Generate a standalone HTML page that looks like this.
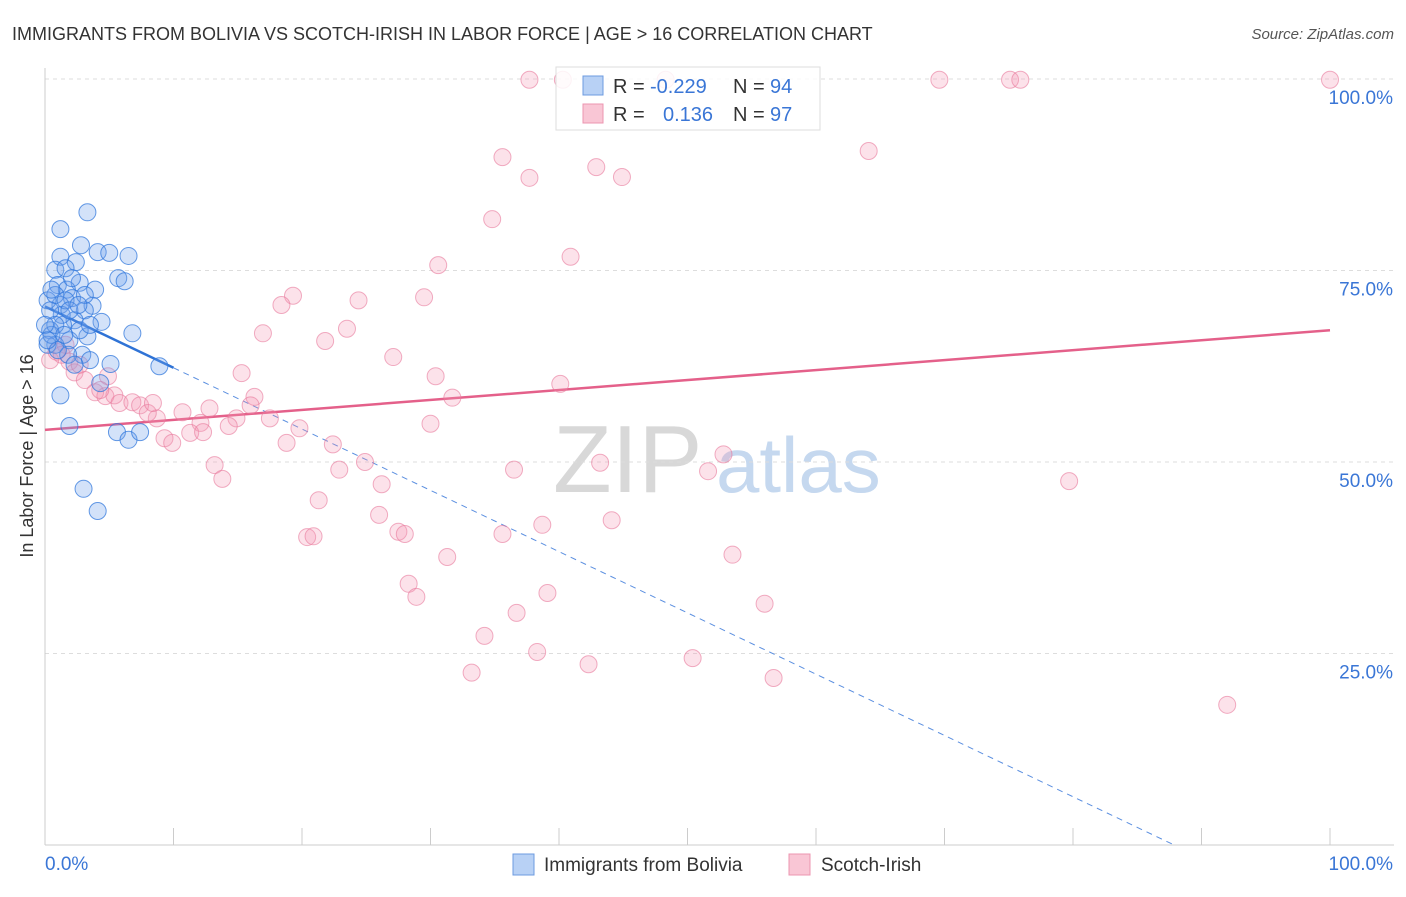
<!DOCTYPE html>
<html><head><meta charset="utf-8"><style>
body{margin:0;background:#fff;font-family:"Liberation Sans",sans-serif;}
svg text{font-family:"Liberation Sans",sans-serif;}
</style></head><body>
<svg id="chart" width="1406" height="892" viewBox="0 0 1406 892">
<text x="12" y="40" font-size="18" fill="#333">IMMIGRANTS FROM BOLIVIA VS SCOTCH-IRISH IN LABOR FORCE | AGE &gt; 16 CORRELATION CHART</text>
<text x="1394" y="39" font-size="15" fill="#555" text-anchor="end" font-style="italic">Source: ZipAtlas.com</text>
<text transform="translate(33,456) rotate(-90)" font-size="18" fill="#333" text-anchor="middle">In Labor Force | Age &gt; 16</text>
<g font-size="96">
<text x="553" y="492" fill="#d8d8d8" font-family="Liberation Serif,serif">ZIP</text>
<text x="716" y="492" fill="#c5d8ef" font-size="78">atlas</text>
</g>
<g id="grid"></g><g id="axes"></g><g id="lines"></g><g id="pts"></g>
<g>
<rect x="556" y="67" width="264" height="63" fill="rgba(255,255,255,0.85)" stroke="#ddd"/>
<rect x="583" y="76" width="20" height="19" fill="#b8d1f5" stroke="#6c9be0"/>
<rect x="583" y="104" width="20" height="19" fill="#f9c6d5" stroke="#ec95b0"/>
<text x="613" y="93" font-size="20" fill="#333">R = </text><text x="650" y="93" font-size="20" fill="#3a76d6">-0.229</text>
<text x="733" y="93" font-size="20" fill="#333">N = </text><text x="770" y="93" font-size="20" fill="#3a76d6">94</text>
<text x="613" y="121" font-size="20" fill="#333">R = </text><text x="663" y="121" font-size="20" fill="#3a76d6">0.136</text>
<text x="733" y="121" font-size="20" fill="#333">N = </text><text x="770" y="121" font-size="20" fill="#3a76d6">97</text>
</g>
<g>
<rect x="513" y="854" width="21" height="21" fill="#b8d1f5" stroke="#6c9be0"/>
<text x="544" y="871" font-size="19" fill="#333">Immigrants from Bolivia</text>
<rect x="789" y="854" width="21" height="21" fill="#f9c6d5" stroke="#ec95b0"/>
<text x="821" y="871" font-size="19" fill="#333">Scotch-Irish</text>
</g>
</svg>
<script>
const yTicks=[25,50,75,100];
const yTickLabels=["25.0%","50.0%","75.0%","100.0%"];
const xTickLabels=["0.0%","100.0%"];
const blueX=[3.3,1.2,2.8,4.1,5.0,6.5,1.2,2.4,0.8,5.7,6.2,1.0,2.7,1.7,3.9,2.1,3.7,1.2,3.1,2.3,4.4,1.4,0.4,3.3,6.8,1.9,0.8,2.9,5.1,8.9,1.2,4.3,1.9,5.6,6.5,7.4,3.0,4.1,0.2,0.8,1.3,1.6,1.9,2.7,3.5,1.8,0.2,0.5,1.0,1.6,2.1,0.5,3.1,2.6,3.5,0.4,0.8,1.5,2.3,0,0.2];
const blueY=[82.6,80.4,78.3,77.4,77.3,76.9,76.8,76.1,75.1,74.0,73.6,73.1,73.4,72.5,72.5,71.4,70.4,70.5,69.8,68.5,68.3,67.9,67.2,66.4,66.8,65.9,65.3,64.0,62.8,62.5,58.7,60.3,54.7,53.9,52.9,53.9,46.5,43.6,71.1,71.8,69.2,71.1,69.8,67.2,63.3,64.0,65.3,66.6,64.6,75.3,74.0,72.5,71.8,70.5,67.9,69.8,67.9,66.6,62.7,67.9,65.9];
const pinkX=[37.7,40.3,48.3,69.6,75.1,75.9,100,35.6,42.9,37.7,44.9,64.1,34.8,40.9,30.6,19.3,18.4,29.5,24.4,16.96,21.8,23.5,27.1,15.3,30.4,40.1,16.3,31.7,16,12.8,10.7,8.7,12.1,14.9,17.5,14.3,19.8,11.3,12.3,9.3,9.9,30,18.8,22.4,24.9,22.9,13.2,13.8,36.5,43.2,51.6,52.8,79.7,21.3,26.2,26,38.7,44.1,20.4,20.9,27.5,28,35.6,31.3,53.5,28.3,28.9,39.1,36.7,56,34.2,38.3,42.3,50.4,33.2,56.7,92,0.4,0.9,1.6,1.9,2.3,3.1,3.9,4.9,4.7,5.4,5.8,6.8,7.4,8.0,8.4,1.3,2.7,4.3];
const pinkY=[99.9,99.9,99.9,99.9,99.9,99.9,99.9,89.8,88.5,87.1,87.2,90.6,81.7,76.8,75.7,71.7,70.5,71.5,71.1,66.8,65.8,67.4,63.7,61.6,61.2,60.2,58.5,58.4,57.4,57.0,56.5,55.7,55.1,55.7,55.7,54.7,54.4,53.8,53.9,53.1,52.5,55,52.5,52.3,50.0,49.0,49.6,47.8,49.0,49.9,48.8,51.0,47.5,45.0,47.1,43.1,41.8,42.4,40.2,40.3,40.9,40.6,40.6,37.6,37.9,34.1,32.4,32.9,30.3,31.5,27.3,25.2,23.6,24.4,22.5,21.8,18.3,63.3,64.4,65.3,63.1,61.7,60.7,59.1,61.2,58.6,58.7,57.7,57.8,57.4,56.4,57.7,64.0,62.7,59.4];
const blueTrend=[70.3,-0.8];
const pinkTrend=[54.2,0.13];
const X0=45,X1=1330,Y0=845,Y1=79;
const sx=v=>X0+(X1-X0)*v/100, sy=v=>Y0-(Y0-Y1)*v/100;
const NS="http://www.w3.org/2000/svg";
function mk(t,a,p){const e=document.createElementNS(NS,t);for(const k in a)e.setAttribute(k,a[k]);p.appendChild(e);return e;}
const grid=document.getElementById('grid'),axes=document.getElementById('axes'),lines=document.getElementById('lines'),pts=document.getElementById('pts');
yTicks.forEach((t,i)=>{
 const l=mk('line',{x1:X0,x2:1394,y1:sy(t),y2:sy(t),stroke:'#ddd','stroke-dasharray':'4,4'},grid);
 
 
 const tx=mk('text',{x:1393,y:sy(t)+25,'font-size':19,fill:'#3a76d6','text-anchor':'end'},grid);
 tx.textContent=yTickLabels[i];
 
 
});
const ax=mk('line',{x1:X0,x2:1394,y1:Y0,y2:Y0,stroke:'#ccc'},axes);


const ay=mk('line',{x1:X0,x2:X0,y1:68,y2:Y0,stroke:'#ccc'},axes);


for(let i=0;i<=10;i++){const t=mk('line',{x1:sx(i*10),x2:sx(i*10),y1:828,y2:Y0,stroke:'#ccc'},axes);
 
 }
[[0,'start',45],[100,'end',1393]].forEach((d,i)=>{const t=mk('text',{x:d[2],y:870,'font-size':19,fill:'#3a76d6','text-anchor':d[1]},axes);t.textContent=xTickLabels[i];
 
 });
function dot(x,y,c){const e=mk('circle',{cx:sx(x),cy:sy(y),r:8.5,fill:c[0],stroke:c[1],'stroke-width':1},pts);return e;}
pinkX.forEach((x,i)=>{const e=dot(x,pinkY[i],['rgba(244,150,178,0.28)','rgba(232,120,155,0.6)']);
 
 });
blueX.forEach((x,i)=>{const e=dot(x,blueY[i],['rgba(110,160,235,0.3)','rgba(50,120,220,0.75)']);
 
 });
const bz=-blueTrend[0]/blueTrend[1];
const bl=mk('line',{x1:sx(0),y1:sy(blueTrend[0]),x2:sx(10),y2:sy(blueTrend[0]+10*blueTrend[1]),stroke:'#2f73d6','stroke-width':2.5},lines);


const bd=mk('line',{x1:sx(10),y1:sy(blueTrend[0]+10*blueTrend[1]),x2:sx(bz),y2:sy(0),stroke:'#5b8fe0','stroke-width':1,'stroke-dasharray':'6,5'},lines);


const pl=mk('line',{x1:sx(0),y1:sy(pinkTrend[0]),x2:sx(100),y2:sy(pinkTrend[0]+100*pinkTrend[1]),stroke:'#e4608a','stroke-width':2.5},lines);


</script>
</body></html>
